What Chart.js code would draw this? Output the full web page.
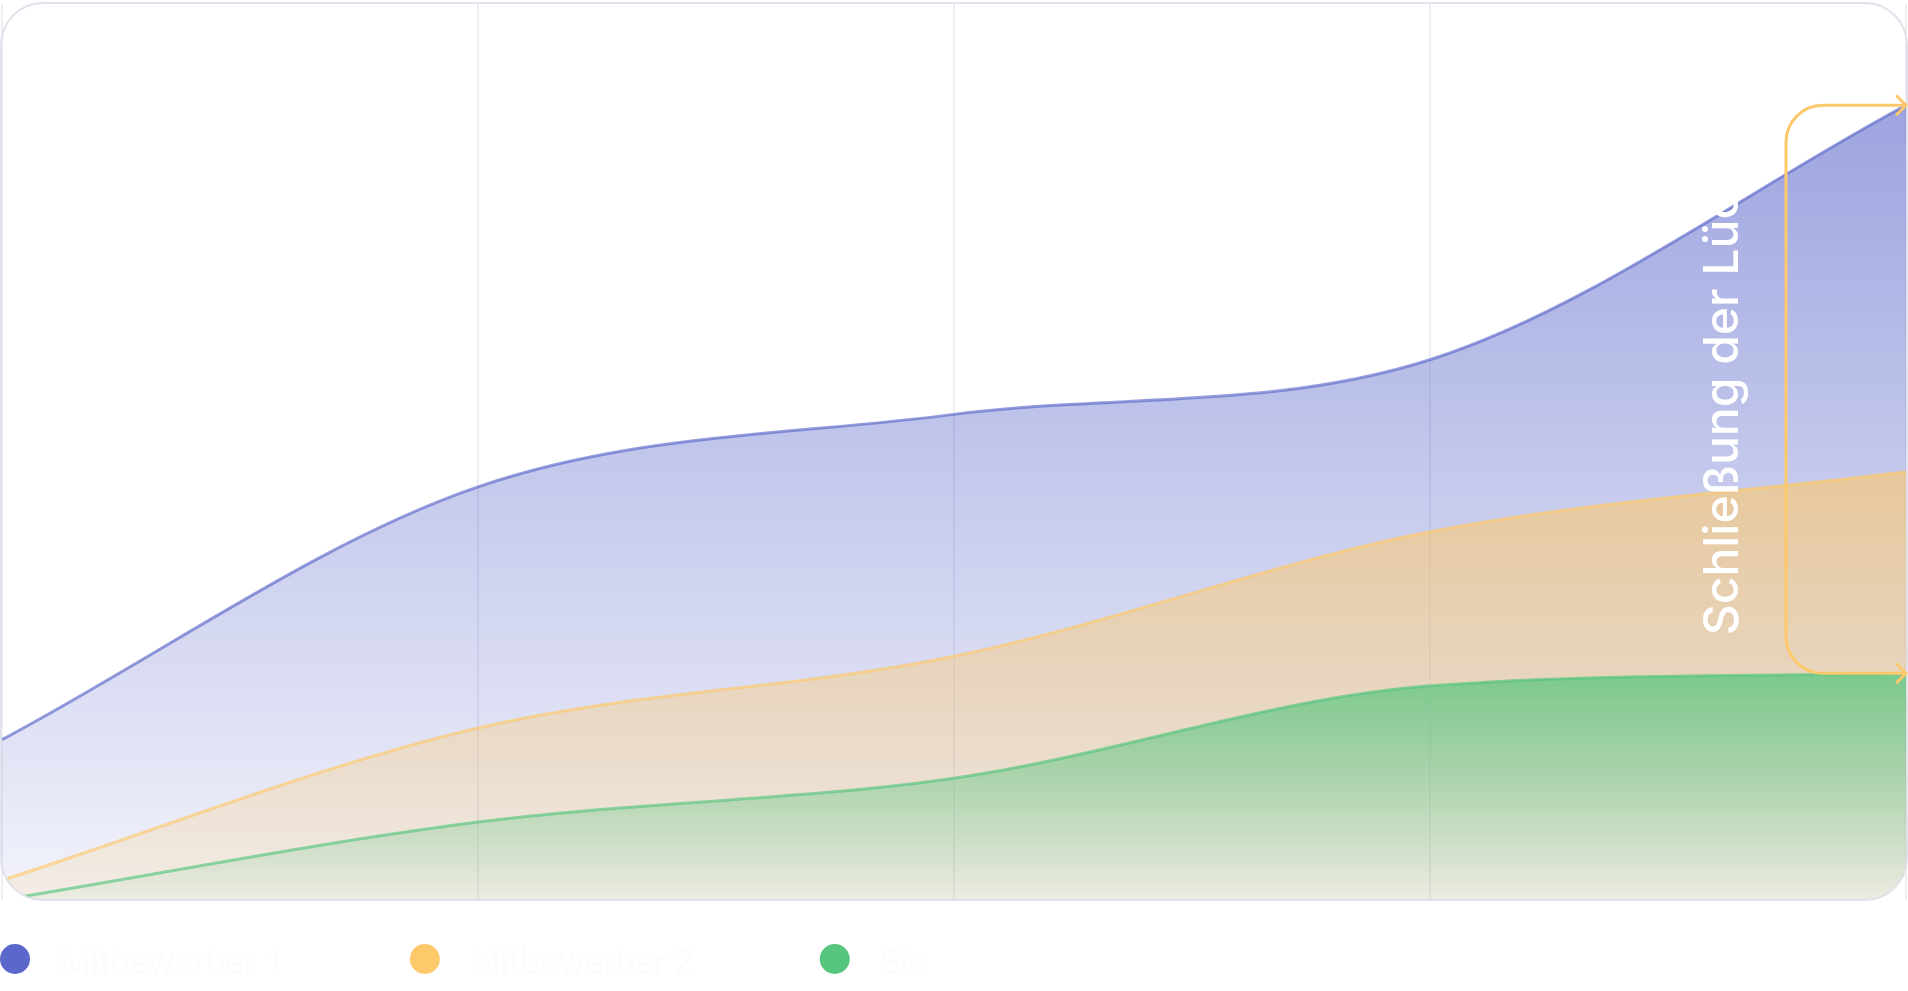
<!DOCTYPE html>
<html lang="de">
<head>
<meta charset="utf-8">
<title>Schließung der Lücke</title>
<script src="https://cdn.jsdelivr.net/npm/chart.js@4.4.1/dist/chart.umd.min.js"></script>
<style>
    html, body { margin: 0; padding: 0; background: #fff; }
    #wrap { width: 1908px; height: 991px; position: relative; }
</style>
</head>
<body>
<div id="wrap"><canvas id="gapChart"></canvas></div>
<script>
// x categories (tick labels are hidden in the picture)
const labels = ['Start', 'Phase 1', 'Phase 2', 'Phase 3', 'Ziel'];
const seriesNames = ['Mitbewerber 1', 'Mitbewerber 2', 'Sie'];
const mitbewerber1 = [17.9, 46.1, 54.2, 60.3, 88.7];
const mitbewerber2 = [2.2, 19.2, 27.2, 41.1, 47.8];
const sie = [0, 8.7, 13.6, 23.9, 25.3];
const annotationText = 'Schließung der Lücke';

const rgb = ['91, 103, 202', '254, 201, 107', '86, 197, 126'];
const fillAlpha = [[0.6, 0.08], [0.62, 0.14], [0.75, 0.04]];

function areaGradient(ctx) {
    const chart = ctx.chart;
    const { chartArea, scales } = chart;
    if (!chartArea) return 'transparent';
    const i = ctx.datasetIndex;
    const data = chart.data.datasets[i].data;
    const top = scales.y.getPixelForValue(Math.max(...data));
    const g = chart.ctx.createLinearGradient(0, top, 0, chartArea.bottom);
    g.addColorStop(0, `rgba(${rgb[i]}, ${fillAlpha[i][0]})`);
    g.addColorStop(1, `rgba(${rgb[i]}, ${fillAlpha[i][1]})`);
    return g;
}

function roundedBox(ctx, x, y, w, h, r) {
    ctx.beginPath();
    ctx.moveTo(x + r, y);
    ctx.arcTo(x + w, y, x + w, y + h, r);
    ctx.arcTo(x + w, y + h, x, y + h, r);
    ctx.arcTo(x, y + h, x, y, r);
    ctx.arcTo(x, y, x + w, y, r);
    ctx.closePath();
}

const frameRadius = 42;

const framePlugin = {
    id: 'frame',
    beforeDatasetsDraw(chart) {
        const { ctx, chartArea: a } = chart;
        ctx.save();
        roundedBox(ctx, a.left - 1, a.top - 1, a.right - a.left + 2, a.bottom - a.top + 1, frameRadius);
        ctx.clip();
    },
    afterDatasetsDraw(chart) {
        const { ctx, chartArea: a, scales } = chart;
        ctx.restore();

        // rounded frame round the plot
        ctx.save();
        ctx.lineWidth = 2;
        ctx.strokeStyle = 'rgba(222, 223, 233, 0.9)';
        roundedBox(ctx, a.left - 1, a.top - 1, a.right - a.left + 2, a.bottom - a.top + 1, frameRadius);
        ctx.stroke();
        ctx.restore();

        // bracket between first and last series at the end
        const last = labels.length - 1;
        const xTip = scales.x.getPixelForValue(last);
        const yTop = scales.y.getPixelForValue(mitbewerber1[last]);
        const yBot = scales.y.getPixelForValue(sie[last]);
        const xv = xTip - 120;
        const r = 37;
        ctx.save();
        ctx.strokeStyle = 'rgb(254, 201, 107)';
        ctx.lineWidth = 3;
        ctx.lineCap = 'round';
        ctx.lineJoin = 'round';
        ctx.beginPath();
        ctx.moveTo(xTip, yTop);
        ctx.lineTo(xv + r, yTop);
        ctx.arcTo(xv, yTop, xv, yTop + r, r);
        ctx.lineTo(xv, yBot - r);
        ctx.arcTo(xv, yBot, xv + r, yBot, r);
        ctx.lineTo(xTip, yBot);
        ctx.stroke();
        [yTop, yBot].forEach(y => {
            ctx.beginPath();
            ctx.moveTo(xTip - 9, y - 9);
            ctx.lineTo(xTip, y);
            ctx.lineTo(xTip - 9, y + 9);
            ctx.stroke();
        });

        // label along the bracket, reading upwards
        ctx.translate(xv - 48, yBot - 38);
        ctx.rotate(-Math.PI / 2);
        ctx.fillStyle = '#ffffff';
        ctx.font = '500 48px Inter';
        ctx.textAlign = 'left';
        ctx.textBaseline = 'alphabetic';
        ctx.fillText(annotationText, 0, 0);
        ctx.restore();
    },
    afterDraw(chart) {
        // legend row under the plot
        const { ctx } = chart;
        ctx.save();
        ctx.font = '400 35px Roboto';
        ctx.textBaseline = 'alphabetic';
        let x = 0;
        chart.data.datasets.forEach((ds, i) => {
            ctx.fillStyle = `rgb(${rgb[i]})`;
            ctx.beginPath();
            ctx.arc(x + 15, 959, 15, 0, Math.PI * 2);
            ctx.fill();
            ctx.fillStyle = '#fcfcfc';
            ctx.fillText(ds.label, x + 60, 974);
            x += 60 + ctx.measureText(ds.label).width + 126;
        });
        ctx.restore();
    }
};

const seriesData = [mitbewerber1, mitbewerber2, sie];

const ctx = document.getElementById('gapChart').getContext('2d');
new Chart(ctx, {
    type: 'line',
    data: {
        labels: labels,
        datasets: seriesData.map((values, i) => ({
            label: seriesNames[i],
            data: values,
            borderColor: `rgba(${rgb[i]}, 0.65)`,
            borderWidth: 3,
            backgroundColor: areaGradient,
            fill: 'origin',
            cubicInterpolationMode: 'monotone',
            pointRadius: 0,
            order: 3 - i
        }))
    },
    options: {
        responsive: true,
        maintainAspectRatio: false,
        animation: false,
        events: [],
        layout: { padding: { left: 2, right: 2, top: 4, bottom: 91 } },
        plugins: {
            legend: { display: false },
            tooltip: { enabled: false }
        },
        scales: {
            x: {
                ticks: { display: false },
                grid: { color: 'rgba(238, 238, 244, 1)', lineWidth: 2, drawTicks: false },
                border: { display: false }
            },
            y: {
                display: false,
                min: 0,
                max: 100
            }
        }
    },
    plugins: [framePlugin]
});
</script>
</body>
</html>
